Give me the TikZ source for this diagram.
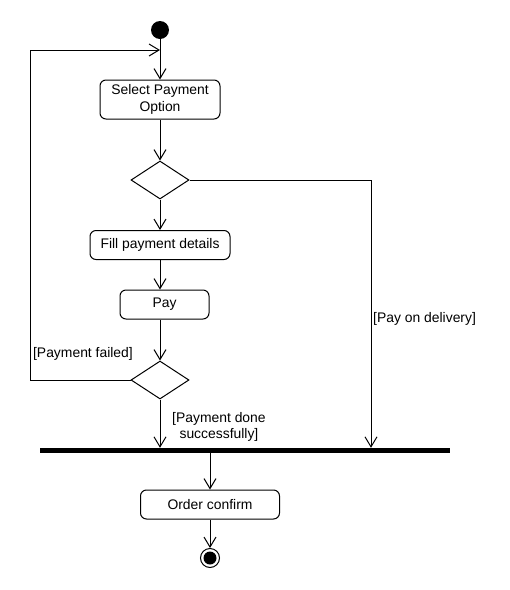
\documentclass[tikz,border=0pt]{standalone}
\usepackage{fontspec}
\setmainfont{Liberation Sans}
\usetikzlibrary{arrows.meta,shapes.geometric}
\begin{document}
\begin{tikzpicture}[x=1pt,y=-1pt,
  every node/.style={font=\fontsize{13.9pt}{16.5pt}\selectfont},
  act/.style={draw,rounded corners=6pt,line width=1pt,inner sep=0pt,align=center,minimum height=29pt},
  dec/.style={draw,diamond,aspect=1.5,line width=1pt,minimum width=58pt,minimum height=38pt,inner sep=0pt},
  flow/.style={line width=1pt,-{Straight Barb[length=10pt,width=12pt,line width=1pt]}},
  guard/.style={inner sep=0pt}]
\useasboundingbox (0,0) rectangle (510,590);
\node[circle,fill=black,minimum size=18pt,inner sep=0pt] (start) at (160,30) {};
\node[act,minimum width=120pt,minimum height=39pt] (sel) at (160,99.5) {Select Payment\\Option};
\node[dec] (d1) at (160,180) {};
\node[act,minimum width=140pt] (fill) at (160,245) {Fill payment details};
\node[act,minimum width=89pt] (pay) at (164.5,304.5) {Pay};
\node[dec] (d2) at (160,380) {};
\node[fill=black,minimum width=410pt,minimum height=5pt,inner sep=0pt] (bar) at (245,450.5) {};
\node[act,minimum width=139pt] (ord) at (210,504.5) {Order confirm};
\node[circle,draw,line width=1pt,minimum size=19pt,inner sep=0pt] (end) at (210,558) {};
\node[circle,fill=black,minimum size=13pt,inner sep=0pt] (endin) at (210,558) {};
\coordinate (j) at (160,50);
\coordinate (lb) at (30,380);
\coordinate (lt) at (30,50);
\coordinate (rc) at (371,180);
\draw[flow] (start) -- (sel);
\draw[flow] (sel) -- (d1);
\draw[flow] (d1) -- (fill);
\draw[flow] (fill) -- (pay.north -| fill.south);
\draw[flow] (pay.south -| d2.north) -- (d2);
\draw[flow] (d2.west) -- (lb) -- (lt) -- (j);
\draw[flow] (d2.south) -- (bar.north -| d2.south);
\draw[flow] (d1.east) -- (rc) -- (bar.north -| rc);
\draw[flow] (bar.south -| ord.north) -- (ord);
\draw[flow] (ord) -- (end);
\node[guard,anchor=west] (gpd) at (373,319) {[Pay on delivery]};
\node[guard,anchor=east] (gpf) at (133,354) {[Payment failed]};
\node[guard,anchor=north west,align=center] (gps) at (172,412) {[Payment done\\successfully]};
\end{tikzpicture}
\end{document}
